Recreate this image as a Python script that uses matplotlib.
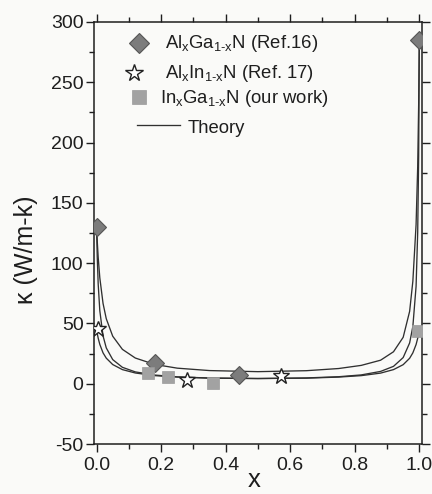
import matplotlib
matplotlib.use("Agg")
import matplotlib.pyplot as plt

plt.rcParams['font.family'] = ['Liberation Sans', 'DejaVu Sans']
plt.rcParams['mathtext.fontset'] = 'custom'
plt.rcParams['mathtext.rm'] = 'Liberation Sans'
plt.rcParams['mathtext.it'] = 'Liberation Sans'
plt.rcParams['axes.unicode_minus'] = False

# measured points
algan_x = [0.0, 0.18, 0.44, 1.0]
algan_y = [130, 17, 7.5, 285]
alinn_x = [0.005, 0.28, 0.57]
alinn_y = [45, 3, 6.5]
ingan_x = [0.16, 0.22, 0.36, 0.995]
ingan_y = [8.5, 5.3, 0.8, 44]

# theory curves
theory_x = [0.0, 0.002, 0.005, 0.01, 0.02, 0.03, 0.05, 0.08, 0.12, 0.18, 0.25,
            0.35, 0.5, 0.65, 0.75, 0.82, 0.88, 0.92, 0.95, 0.97, 0.98, 0.99,
            0.995, 0.998, 1.0]
theory_algan = [130, 118.5, 104.7, 87.8, 66.6, 53.9, 39.4, 28.5, 21.3, 16.0, 12.9,
                10.9, 10.0, 10.8, 12.6, 15.2, 19.5, 26.5, 38.5, 60.0, 85.0, 132.0,
                180.0, 232.0, 285]
theory_alinn = [45, 41.8, 37.7, 32.6, 25.6, 21.2, 15.9, 11.7, 8.9, 6.7, 5.5,
                4.65, 4.3, 4.8, 5.8, 7.3, 10.2, 14.4, 21.7, 33.8, 47.5, 80.8,
                125.5, 188.8, 285]
theory_ingan = [130, 105.6, 82.5, 60.5, 39.7, 29.7, 20.0, 13.6, 9.8, 7.2, 5.7,
                4.7, 4.3, 4.6, 5.5, 6.7, 8.8, 11.7, 15.8, 21.1, 25.6, 32.5,
                37.7, 41.8, 45]

labels = [r'Al$_\mathrm{x}$Ga$_\mathrm{1\text{-}x}$N (Ref.16)',
          r'Al$_\mathrm{x}$In$_\mathrm{1\text{-}x}$N (Ref. 17)',
          r'In$_\mathrm{x}$Ga$_\mathrm{1\text{-}x}$N (our work)',
          'Theory']

bg = '#fafaf8'
ink = '#1e1e1e'
lc = '#303030'
dia_style = dict(marker='D', mfc='#7c7c7c', mec='#555555', mew=0.8)
star_style = dict(marker='*', mfc='white', mec='#222222', mew=1.0)
sq_style = dict(marker='s', mfc='#a2a2a2', mec='#9a9a9a', mew=0.5)

fig = plt.figure(figsize=(4.32, 4.94), dpi=100, facecolor=bg)
ax = fig.add_axes([0.2176, 0.1012, 0.759, 0.8543], facecolor=bg)

ax.plot(theory_x, theory_algan, color=lc, lw=0.95)
ax.plot(theory_x, theory_alinn, color=lc, lw=0.95)
ax.plot(theory_x, theory_ingan, color=lc, lw=0.95)

ax.plot(algan_x, algan_y, linestyle='none', ms=9, zorder=3, **dia_style)
ax.plot(alinn_x, alinn_y, linestyle='none', ms=12, zorder=3, **star_style)
ax.plot(ingan_x, ingan_y, linestyle='none', ms=8, zorder=3, **sq_style)

ax.set_xlim(-0.008, 1.008)
ax.set_ylim(-50, 300)
ax.set_xticks([0.0, 0.2, 0.4, 0.6, 0.8, 1.0])
ax.set_xticks([0.1, 0.3, 0.5, 0.7, 0.9], minor=True)
ax.set_yticks([-50, 0, 50, 100, 150, 200, 250, 300])
ax.set_yticks([-25, 25, 75, 125, 175, 225, 275], minor=True)
ax.set_xticklabels(['0.0', '0.2', '0.4', '0.6', '0.8', '1.0'])

ax.tick_params(which='both', direction='out', top=True, right=True,
               labeltop=False, labelright=False, colors=ink, width=1.0)
ax.tick_params(which='major', length=6, labelsize=14)
ax.tick_params(axis='y', which='major', pad=1.5)
ax.tick_params(axis='x', which='major', pad=3)
ax.tick_params(which='minor', length=3.5)
for s in ax.spines.values():
    s.set_color(ink)
    s.set_linewidth(1.1)

ax.set_xlabel('x', fontsize=18.5, color=ink)
ax.xaxis.label.set_va('baseline')
ax.xaxis.set_label_coords(0.488, -0.101)
ax.set_ylabel('κ (W/m-k)', fontsize=18, color=ink)
ax.yaxis.set_label_coords(-0.172, 0.46)

# hand-placed legend (layout positions in axes fraction)
tr = ax.transAxes
ax.plot([0.136], [0.950], transform=tr, clip_on=False, ms=10.5, linestyle='none', **dia_style)
ax.plot([0.121], [0.880], transform=tr, clip_on=False, ms=13, linestyle='none', **star_style)
ax.plot([0.136], [0.823], transform=tr, clip_on=False, ms=10, linestyle='none', **sq_style)
ax.plot([0.131, 0.262], [0.756, 0.756], transform=tr, color=lc, lw=0.95)
text_pos = [(0.216, 0.938), (0.216, 0.867), (0.200, 0.808), (0.286, 0.737)]
for (tx, ty), lab in zip(text_pos, labels):
    ax.text(tx, ty, lab, transform=tr, fontsize=13.3, color=ink, va='baseline', ha='left')

fig.savefig('out.png', dpi=100, facecolor=bg)
